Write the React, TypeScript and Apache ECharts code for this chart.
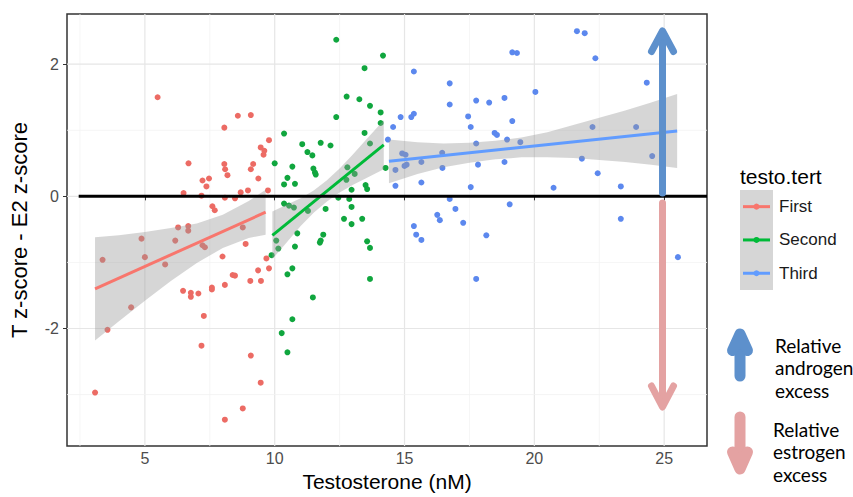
import React, { useEffect, useRef } from "react";
import * as echarts from "echarts";

// Testosterone tertiles and their ggplot hues
const tertiles = ["First", "Second", "Third"];
const tertileColors = ["#F8766D", "#00BA38", "#619CFF"];
const pointColors = ["#EC6B64", "#10A63E", "#5C88EE"];

// [testosterone (nM), T z-score - E2 z-score]
const firstPoints = [
  [3.08, -2.97], [3.37, -0.96], [3.56, -2.02], [4.47, -1.68], [4.87, -0.64], [5.0, -0.92], [5.49, 1.5],
  [5.78, -1.03], [6.17, -0.67], [6.28, -0.47], [6.47, -1.43], [6.49, 0.05], [6.67, -0.45], [6.67, -0.52],
  [6.68, 0.5], [6.77, -1.46], [6.77, -1.52], [7.06, -1.47], [7.18, 0.01], [7.18, -2.26], [7.22, 0.24],
  [7.22, -0.74], [7.27, -1.81], [7.31, -0.77], [7.37, 0.15], [7.47, 0.27], [7.58, -1.38], [7.58, -1.41],
  [7.6, -0.15], [7.69, -0.21], [7.99, -0.91], [8.06, 1.04], [8.06, 0.49], [8.08, -0.02], [8.08, -1.34],
  [8.08, -3.38], [8.09, 0.41], [8.18, 0.32], [8.38, -1.19], [8.47, -1.2], [8.47, -0.03], [8.58, 1.22],
  [8.69, 0.06], [8.77, -0.47], [8.77, -3.21], [8.88, -0.72], [8.97, 0.09], [9.06, -1.28], [9.08, 1.23],
  [9.08, 0.41], [9.08, -2.41], [9.17, 0.49], [9.36, -1.12], [9.37, 0.27], [9.46, 0.74], [9.46, -2.82],
  [9.47, -1.28], [9.57, 0.63], [9.6, 0.69], [9.68, -0.94], [9.74, 0.09], [9.78, 0.85], [9.78, -1.09],
];

const secondPoints = [
  [9.88, -0.89], [10.0, 0.5], [10.06, -0.67], [10.14, -0.79], [10.27, -2.07], [10.36, 0.95], [10.36, 0.18],
  [10.36, -0.11], [10.49, 0.28], [10.49, -1.18], [10.49, -2.36], [10.55, -0.14], [10.68, 0.45], [10.68, -1.09],
  [10.68, -1.86], [10.74, -0.17], [10.78, 0.19], [10.78, -0.76], [10.87, -0.56], [11.06, 0.79], [11.26, 0.67],
  [11.28, -0.22], [11.45, 0.62], [11.47, -1.53], [11.49, 0.42], [11.55, 0.36], [11.58, 0.33], [11.74, -0.7],
  [11.77, 0.81], [11.77, -0.67], [11.87, -0.58], [11.96, -0.19], [12.15, 0.77], [12.37, 2.37], [12.37, 1.2],
  [12.45, -0.02], [12.67, -0.34], [12.76, 0.25], [12.77, 1.51], [12.8, 0.44], [12.87, -0.04], [12.96, 0.1],
  [12.96, -0.16], [12.96, -0.42], [13.08, 0.34], [13.26, 1.47], [13.37, -0.34], [13.46, 1.94], [13.46, 0.96],
  [13.5, 0.17], [13.56, 0.11], [13.56, -0.68], [13.67, 1.37], [13.67, 0.8], [13.67, -0.78], [13.67, -1.25],
  [14.08, 1.27], [14.08, 1.11], [14.17, 2.13], [14.27, 0.43],
];

const thirdPoints = [
  [14.36, 0.86], [14.56, 1.05], [14.65, 0.4], [14.65, 0.16], [14.85, 1.2], [14.91, 0.65], [15.0, 0.46],
  [15.04, 0.63], [15.08, 0.48], [15.26, 1.2], [15.36, 1.25], [15.36, 1.89], [15.36, -0.45], [15.45, -0.58],
  [15.65, 0.52], [15.65, 0.21], [15.65, -0.66], [16.26, -0.28], [16.36, -0.36], [16.45, 0.66], [16.46, 0.43],
  [16.74, 1.71], [16.74, 1.39], [16.74, -0.04], [16.96, -0.19], [17.26, -0.4], [17.45, 1.21], [17.55, 1.05],
  [17.55, 0.14], [17.76, 1.45], [17.76, 0.8], [17.76, -1.25], [17.83, 0.48], [18.15, -0.59], [18.26, 1.42],
  [18.47, 0.96], [18.56, 0.93], [18.85, 1.49], [18.85, 0.52], [18.95, 0.86], [19.05, -0.12], [19.15, 2.18],
  [19.15, 1.14], [19.33, 2.17], [19.46, 0.82], [20.04, 1.58], [20.74, 0.13], [21.64, 2.5], [21.83, 0.57],
  [21.94, 2.47], [22.24, 1.05], [22.35, 2.09], [22.44, 0.35], [23.33, 0.15], [23.33, -0.34], [23.92, 1.05],
  [24.33, 1.72], [24.54, 0.61], [25.53, -0.92],
];

// Linear fits (end points) per tertile
const firstFit = [[3.08, -1.4], [9.65, -0.24]];
const secondFit = [[9.91, -0.59], [14.2, 0.78]];
const thirdFit = [[14.4, 0.53], [25.5, 0.99]];

// 95% confidence ribbons
const firstBandX = [3.08, 4, 5, 6, 7, 8, 9, 9.65];
const firstBandLo = [-2.18, -1.89, -1.58, -1.28, -1.01, -0.78, -0.63, -0.58];
const firstBandHi = [-0.62, -0.59, -0.54, -0.48, -0.41, -0.28, -0.07, 0.1];

const secondBandX = [9.91, 10.5, 11, 11.5, 12, 12.5, 13, 13.5, 14.2];
const secondBandLo = [-0.95, -0.68, -0.45, -0.25, -0.08, 0.06, 0.17, 0.27, 0.41];
const secondBandHi = [-0.23, -0.12, -0.03, 0.09, 0.24, 0.42, 0.63, 0.85, 1.15];

const thirdBandX = [14.4, 15.5, 16.5, 17.5, 18.5, 19.5, 20.5, 21.5, 22.5, 23.5, 24.5, 25.5];
const thirdBandLo = [0.2, 0.34, 0.44, 0.51, 0.56, 0.59, 0.59, 0.58, 0.55, 0.52, 0.48, 0.43];
const thirdBandHi = [0.86, 0.82, 0.8, 0.81, 0.84, 0.89, 0.97, 1.08, 1.19, 1.3, 1.42, 1.55];

// Axes
const xTicks = [5, 10, 15, 20, 25];
const xMinor = [2.5, 7.5, 12.5, 17.5, 22.5];
const yTicks = [-2, 0, 2];
const yMinor = [-3, -1, 1];
const xRange = [2.0, 26.65];
const yRange = [-3.78, 2.76];

// Reference line at a z-score difference of zero
const zeroLine = [[2.45, 0], [26.65, 0]];

const SANS = "Liberation Sans, Arial, sans-serif";

function bandSeries(name: string, xs: number[], lo: number[], hi: number[]) {
  return {
    name,
    type: "custom",
    silent: true,
    z: 3,
    data: xs.map((x, i) => [x, lo[i], hi[i]]),
    renderItem: (params: any, api: any) => {
      if (params.dataIndex !== 0) return null;
      const lower = xs.map((x, i) => api.coord([x, lo[i]]));
      const upper = xs.map((x, i) => api.coord([x, hi[i]])).reverse();
      return {
        type: "polygon",
        shape: { points: lower.concat(upper) },
        style: { fill: "rgba(153,153,153,0.4)" },
      };
    },
  };
}

function gridSeries(values: number[], vertical: boolean) {
  return {
    type: "custom",
    silent: true,
    z: 0,
    data: values.map((v) => [v]),
    renderItem: (params: any, api: any) => {
      const cs = params.coordSys;
      const v = api.value(0);
      const major = vertical ? xTicks.includes(v) : yTicks.includes(v);
      const style = { stroke: major ? "#e6e6e6" : "#f2f2f2", lineWidth: major ? 1.2 : 0.8 };
      if (vertical) {
        const x = api.coord([v, 0])[0];
        return { type: "line", shape: { x1: x, y1: cs.y, x2: x, y2: cs.y + cs.height }, style };
      }
      const y = api.coord([xRange[0], v])[1];
      return { type: "line", shape: { x1: cs.x, y1: y, x2: cs.x + cs.width, y2: y }, style };
    },
  };
}

function arrow(shaft: number[][], head: number[][], color: string, width: number) {
  const style = { stroke: color, lineWidth: width, lineCap: "round", lineJoin: "round", fill: "none" };
  return [
    { type: "polyline", z: 100, silent: true, shape: { points: shaft }, style },
    { type: "polyline", z: 100, silent: true, shape: { points: head }, style },
  ];
}

export default function App() {
  const ref = useRef<HTMLDivElement>(null);

  useEffect(() => {
    document.body.style.margin = "0";
    const chart = echarts.init(ref.current!, null, { renderer: "svg" });

    const pointSets = [firstPoints, secondPoints, thirdPoints];
    const fits = [firstFit, secondFit, thirdFit];

    const scatter = tertiles.map((name, i) => ({
      name,
      type: "scatter",
      z: 2,
      data: pointSets[i],
      symbolSize: 6,
      itemStyle: { color: pointColors[i], opacity: 1 },
    }));

    const fitLines = tertiles.map((name, i) => ({
      name,
      type: "line",
      z: 4,
      data: fits[i],
      showSymbol: false,
      symbol: "none",
      lineStyle: { color: tertileColors[i], width: 3 },
    }));

    // Legend: grey smooth keys with a coloured line and dot
    const keyTop = 190;
    const keyH = 33.3;
    const legendItems: any[] = [
      {
        type: "text",
        z: 50,
        x: 740,
        y: 176,
        style: { text: "testo.tert", font: `21px ${SANS}`, fill: "#000", verticalAlign: "middle" },
      },
      {
        type: "rect",
        z: 50,
        shape: { x: 740, y: keyTop, width: 33, height: keyH * 3 },
        style: { fill: "#d6d6d6" },
      },
    ];
    tertiles.forEach((name, i) => {
      const cy = keyTop + keyH * (i + 0.5);
      legendItems.push(
        {
          type: "line",
          z: 51,
          shape: { x1: 743, y1: cy, x2: 770, y2: cy },
          style: { stroke: tertileColors[i], lineWidth: 3 },
        },
        {
          type: "circle",
          z: 52,
          shape: { cx: 756.5, cy, r: 3 },
          style: { fill: tertileColors[i] },
        },
        {
          type: "text",
          z: 51,
          x: 779,
          y: cy,
          style: { text: name, font: `17px ${SANS}`, fill: "#1a1a1a", verticalAlign: "middle" },
        }
      );
    });

    const blue = "#5D90CC";
    const pink = "#E4A2A2";
    const notes = [
      ...arrow([[662.5, 193], [662.5, 33]], [[651.5, 51.5], [662.5, 31], [673.5, 51.5]], blue, 7),
      ...arrow([[662.5, 203], [662.5, 404]], [[651.5, 386], [662.5, 407], [673.5, 386]], pink, 7),
      ...arrow([[740, 376], [740, 336]], [[732.5, 350.5], [740, 334], [747.5, 350.5]], blue, 11),
      ...arrow([[740, 417], [740, 466]], [[732.5, 452], [740, 469], [747.5, 452]], pink, 11),
      {
        type: "text",
        z: 60,
        x: 775,
        y: 334,
        style: {
          text: "Relative\nandrogen\nexcess",
          font: "19px Lato",
          lineHeight: 22.5,
          fill: "#000",
        },
      },
      {
        type: "text",
        z: 60,
        x: 773,
        y: 418,
        style: {
          text: "Relative\nestrogen\nexcess",
          font: "19px Lato",
          lineHeight: 22.5,
          fill: "#000",
        },
      },
    ];

    const option: any = {
      animation: false,
      backgroundColor: "#fff",
      grid: {
        left: 66,
        top: 14,
        width: 641,
        height: 438,
        show: true,
        borderColor: "#333",
        borderWidth: 1.5,
        backgroundColor: "transparent",
      },
      xAxis: {
        type: "value",
        min: xRange[0],
        max: xRange[1],
        name: "Testosterone (nM)",
        nameLocation: "middle",
        nameGap: 22,
        nameTextStyle: { fontFamily: SANS, fontSize: 21, color: "#000" },
        axisLine: { show: false },
        splitLine: { show: false },
        axisTick: { show: true, length: 4, lineStyle: { color: "#333", width: 1 }, customValues: xTicks },
        axisLabel: { customValues: xTicks, margin: 4, fontFamily: SANS, fontSize: 16, color: "#4d4d4d" },
      },
      yAxis: {
        type: "value",
        min: yRange[0],
        max: yRange[1],
        name: "T z-score - E2 z-score",
        nameLocation: "middle",
        nameRotate: 90,
        nameGap: 37,
        nameTextStyle: { fontFamily: SANS, fontSize: 22, color: "#000" },
        axisLine: { show: false },
        splitLine: { show: false },
        axisTick: { show: true, length: 4, lineStyle: { color: "#333", width: 1 }, customValues: yTicks },
        axisLabel: {
          customValues: yTicks,
          margin: 8,
          fontFamily: SANS,
          fontSize: 16,
          color: "#4d4d4d",
          formatter: (v: number) => String(v),
        },
      },
      series: [
        gridSeries([...xMinor, ...xTicks], true),
        gridSeries([...yMinor, ...yTicks], false),
        ...scatter,
        bandSeries("First band", firstBandX, firstBandLo, firstBandHi),
        bandSeries("Second band", secondBandX, secondBandLo, secondBandHi),
        bandSeries("Third band", thirdBandX, thirdBandLo, thirdBandHi),
        ...fitLines,
        {
          name: "zero",
          type: "line",
          z: 5,
          data: zeroLine,
          symbol: "none",
          lineStyle: { color: "#000", width: 3 },
        },
      ],
      graphic: [...legendItems, ...notes],
    };

    chart.setOption(option);
    return () => chart.dispose();
  }, []);

  return <div ref={ref} style={{ width: 853, height: 497 }} />;
}
